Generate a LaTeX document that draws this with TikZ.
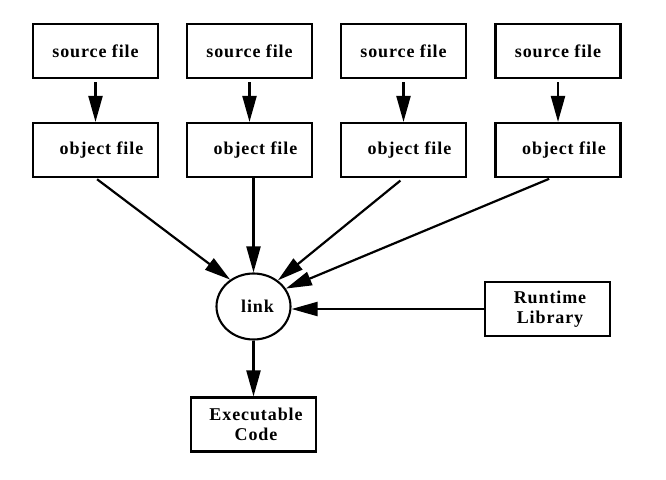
\documentclass[tikz,border=0pt]{standalone}
\usepackage{fontspec}
\newfontfamily\lblfont[LetterSpace=5]{Liberation Serif}
\usetikzlibrary{arrows.meta,shapes.geometric}
\begin{document}
\begin{tikzpicture}[x=1pt,y=-1pt,
  every node/.style={font=\lblfont\bfseries\fontsize{18}{20.5}\selectfont, line width=2.1pt},
  box/.style={draw, rectangle, minimum width=125pt, minimum height=54pt, inner sep=0pt, align=center},
  oval/.style={draw, ellipse, minimum width=74pt, minimum height=66pt, inner sep=0pt},
  arr/.style={draw, line width=2.2pt, -{Triangle[length=26pt,width=14pt]}}
]
\useasboundingbox (0,0) rectangle (666,479);
% source files
\node[box] (s1) at (95.5,51) {source file};
\node[box] (s2) at (249.5,51) {source file};
\node[box] (s3) at (403.5,51) {source file};
\node[box] (s4) at (558,51) {source file};
% object files
\node[box] (o1) at (95.5,150) {\hspace*{12pt}object file};
\node[box] (o2) at (249.5,150) {\hspace*{12pt}object file};
\node[box] (o3) at (403.5,150) {\hspace*{12pt}object file};
\node[box] (o4) at (558,150) {\hspace*{12pt}object file};
% link
\node[oval] (link) at (253.5,306.5) {\hspace*{8pt}link};
% runtime
\node[box] (rt) at (547.5,309) {\hspace*{5pt}Runtime\\\hspace*{5pt}Library};
% executable
\node[box] (ex) at (253.5,424.5) {\hspace*{5pt}Executable\\\hspace*{5pt}Code};
% arrows
\foreach \i in {1,2,3,4} {
  \draw[arr, shorten <=3pt] (s\i.south) -- (o\i.north);
}
\draw[arr, shorten <=2pt] (o1.south) -- (link.131);
\draw[arr] (o2.south -| link.north) -- (link.north);
\draw[arr, shorten <=4pt] (o3.south) -- (link.47);
\draw[arr, shorten <=2pt] ([xshift=-7pt]o4.south) -- (link.29);
\draw[arr] (rt.west) -- (link.east |- rt.west);
\draw[arr] (link.south) -- (ex.north);
\end{tikzpicture}
\end{document}
